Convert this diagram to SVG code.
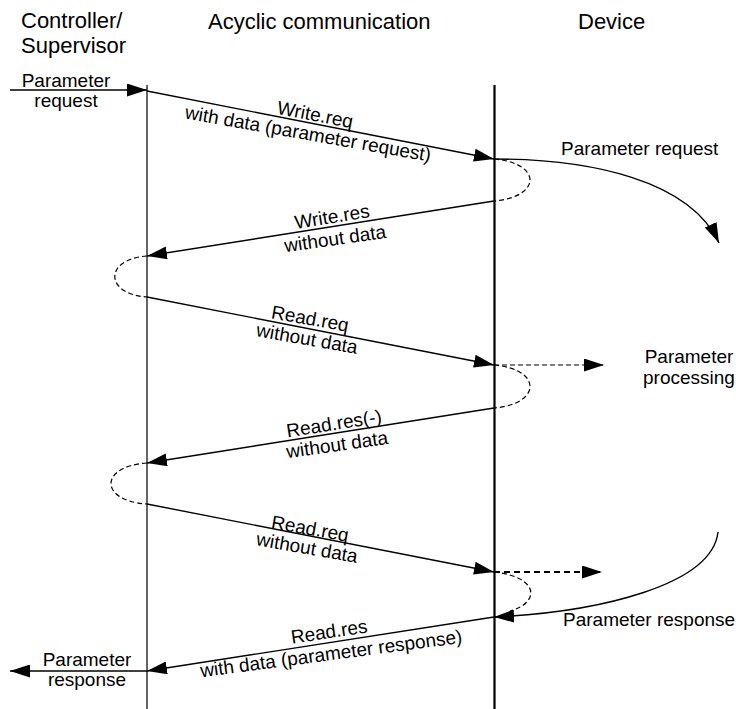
<svg xmlns="http://www.w3.org/2000/svg" width="736" height="709" viewBox="0 0 736 709">
<style>
text{font-family:"Liberation Sans",Arial,sans-serif;fill:#000}
.h{font-size:22px}
.l{font-size:19px}
.m{text-anchor:middle}
.ln{fill:none;stroke:#000;stroke-width:1.4}
.ds{fill:none;stroke:#000;stroke-width:1.2;stroke-dasharray:5 3}
</style>
<defs>
<marker id="ah" markerUnits="userSpaceOnUse" markerWidth="20" markerHeight="13" refX="20" refY="6.5" orient="auto" viewBox="0 0 20 13">
<path d="M0,0 L20,6.5 L0,13 Z" fill="#000"/>
</marker>
</defs>
<g id="lifelines">
<line x1="147" y1="85" x2="147" y2="709" stroke="#333" stroke-width="1.5"/>
<line x1="494.5" y1="85" x2="494.5" y2="709" stroke="#000" stroke-width="2.2"/>
</g>
<g id="headers">
<text class="h" x="21" y="28">Controller/</text>
<text class="h" x="21" y="53">Supervisor</text>
<text class="h" x="208" y="29">Acyclic communication</text>
<text class="h" x="578" y="29">Device</text>
</g>
<g id="connectors">
<path class="ln" d="M10,90 L147,90" marker-end="url(#ah)"/>
<path class="ln" d="M147,91 L494,159" marker-end="url(#ah)"/>
<path class="ds" d="M494,159 C542,163 542,197 494,201"/>
<path class="ln" d="M494,201 L147,256" marker-end="url(#ah)"/>
<path class="ds" d="M147,256 C104,259 104,294 147,297"/>
<path class="ln" d="M147,297 L494,365" marker-end="url(#ah)"/>
<path class="ds" d="M494,365 L604,365" marker-end="url(#ah)"/>
<path class="ds" d="M494,365 C542,369 542,404 494,408"/>
<path class="ln" d="M494,408 L147,463" marker-end="url(#ah)"/>
<path class="ds" d="M147,463 C99,466 99,501 147,504"/>
<path class="ln" d="M147,504 L494,572" marker-end="url(#ah)"/>
<path fill="none" stroke="#000" stroke-width="1.8" stroke-dasharray="6 4" d="M494,572 L602,572" marker-end="url(#ah)"/>
<path class="ds" d="M494,572 C540,577 540,603 510,611"/>
<path class="ln" d="M494,617 L147,671" marker-end="url(#ah)"/>
<path class="ln" d="M147,671 L10,671" marker-end="url(#ah)"/>
<path class="ln" d="M494,159 C590,159 690,180 719,243" marker-end="url(#ah)"/>
<path class="ln" d="M718,532 C712,585 600,612 494,617" marker-end="url(#ah)"/>
</g>
<g id="label-param-request-in">
<text class="l m" x="66" y="87">Parameter</text>
<text class="l m" x="66" y="107">request</text>
</g>
<g id="label-write-req">
<text class="l m" transform="translate(314,121) rotate(11)">Write.req</text>
<text class="l m" transform="translate(307,140) rotate(10)">with data (parameter request)</text>
</g>
<g id="label-write-res">
<text class="l m" transform="translate(333,223) rotate(-9)">Write.res</text>
<text class="l m" transform="translate(336,245) rotate(-8)">without data</text>
</g>
<g id="label-read-req-1">
<text class="l m" transform="translate(309,325) rotate(10)">Read.req</text>
<text class="l m" transform="translate(306,345) rotate(10)">without data</text>
</g>
<g id="label-read-res-neg">
<text class="l m" transform="translate(335,430) rotate(-9)">Read.res(-)</text>
<text class="l m" transform="translate(338,451) rotate(-8)">without data</text>
</g>
<g id="label-read-req-2">
<text class="l m" transform="translate(309,535) rotate(10)">Read.req</text>
<text class="l m" transform="translate(306,554) rotate(10)">without data</text>
</g>
<g id="label-read-res">
<text class="l m" transform="translate(330,638) rotate(-8.5)">Read.res</text>
<text class="l m" transform="translate(332,660) rotate(-7.5)">with data (parameter response)</text>
</g>
<g id="device-param-request">
<text class="l" x="561" y="155">Parameter request</text>
</g>
<g id="device-param-processing">
<text class="l m" x="689" y="363">Parameter</text>
<text class="l m" x="689" y="384">processing</text>
</g>
<g id="device-param-response">
<text class="l" x="563" y="626">Parameter response</text>
</g>
<g id="label-param-response-out">
<text class="l m" x="87" y="666">Parameter</text>
<text class="l m" x="87" y="686">response</text>
</g>
</svg>
